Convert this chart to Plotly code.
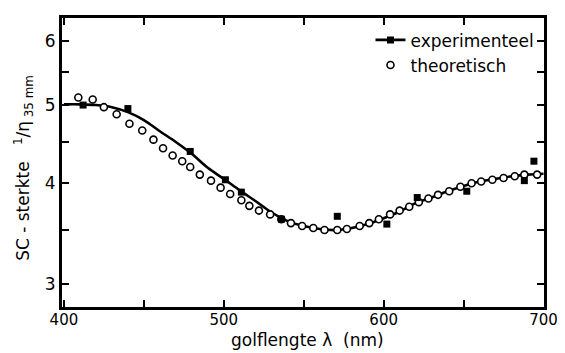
import math
import plotly.graph_objects as go

# theoretical curve (open circles)
theo_wl = [409, 418, 425, 433, 441, 449, 456, 462, 468, 474, 479, 485, 492, 498, 504,
           511, 516, 522, 529, 536, 542, 549, 556, 563, 571, 577, 585, 591, 597, 604,
           610, 616, 622, 628, 634, 641, 648, 655, 661, 668, 675, 682, 688, 696]
theo_val = [5.11, 5.08, 4.97, 4.87, 4.74, 4.65, 4.53, 4.42, 4.33, 4.26, 4.19, 4.10, 4.03, 3.95, 3.88,
            3.81, 3.75, 3.70, 3.66, 3.61, 3.57, 3.54, 3.52, 3.50, 3.50, 3.51, 3.54, 3.57, 3.61, 3.66,
            3.70, 3.74, 3.79, 3.83, 3.87, 3.91, 3.96, 4.00, 4.02, 4.04, 4.06, 4.08, 4.10, 4.10]

# experimental points (filled squares)
exp_wl = [412, 440, 479, 501, 511, 536, 571, 602, 621, 652, 688, 694]
exp_val = [5.00, 4.95, 4.38, 4.04, 3.90, 3.61, 3.64, 3.56, 3.84, 3.91, 4.03, 4.26]

# experimental fitted curve (solid line)
fit_wl = [400, 410, 420, 430, 440, 450, 460, 470, 480, 490, 500, 510, 520, 530, 540, 550,
          560, 570, 580, 590, 600, 610, 620, 630, 640, 650, 660, 670, 680, 690, 700]
fit_val = [5.01, 5.01, 5.00, 4.97, 4.90, 4.79, 4.64, 4.50, 4.35, 4.18, 4.05, 3.92, 3.80, 3.68, 3.59, 3.54,
           3.51, 3.50, 3.52, 3.56, 3.62, 3.69, 3.78, 3.84, 3.91, 3.97, 4.02, 4.05, 4.08, 4.10, 4.11]

x_ticks = [400, 500, 600, 700]
x_minor = [450, 550, 650]
y_ticks = [3, 4, 5, 6]
y_minor = [3.5, 4.5, 5.5]

FONT = "DejaVu Sans"

fig = go.Figure()
fig.add_trace(go.Scatter(
    x=fit_wl, y=fit_val, mode="lines+markers", name="experimenteel",
    line=dict(color="black", width=2.6, shape="spline"),
    marker=dict(symbol="square", size=7, color="black"),
    selectedpoints=[], unselected=dict(marker=dict(opacity=0)),
))
fig.add_trace(go.Scatter(
    x=theo_wl, y=theo_val, mode="markers", name="theoretisch",
    marker=dict(symbol="circle", size=7, color="white", line=dict(color="black", width=1.6)),
))
fig.add_trace(go.Scatter(
    x=exp_wl, y=exp_val, mode="markers", showlegend=False,
    marker=dict(symbol="square", size=7, color="black"),
))

tick_style = dict(ticks="inside", ticklen=7, tickwidth=2, tickcolor="black")

fig.update_layout(
    width=557, height=345,
    margin=dict(l=54, r=17, t=7, b=46),
    paper_bgcolor="white", plot_bgcolor="white",
    font=dict(family=FONT, color="black", size=14),
    legend=dict(x=0.64, y=0.985, xanchor="left", yanchor="top",
                bgcolor="rgba(0,0,0,0)", font=dict(size=17, family=FONT),
                tracegroupgap=0),
    xaxis=dict(range=[398.8, 700.3], tickvals=x_ticks,
               minor=dict(tickvals=x_minor, **tick_style),
               showline=True, linewidth=3, linecolor="black", mirror="ticks",
               showgrid=False, zeroline=False, ticklabelstandoff=-3,
               tickfont=dict(size=15, family=FONT), **tick_style),
    yaxis=dict(type="log", range=[math.log10(2.81), math.log10(6.41)],
               tickvals=y_ticks, ticktext=[str(v) for v in y_ticks],
               minor=dict(tickvals=y_minor, **tick_style),
               showline=True, linewidth=3, linecolor="black", mirror="ticks",
               showgrid=False, zeroline=False,
               tickfont=dict(size=17, family=FONT), **tick_style),
)

fig.add_annotation(text="SC - sterkte   <sup>1</sup>/η<sub> 35 mm</sub>", textangle=-90,
                   xref="paper", yref="paper", x=-0.08, y=0.483,
                   xanchor="center", yanchor="middle", showarrow=False,
                   font=dict(size=17, family=FONT))
fig.add_annotation(text="golflengte λ  (nm)",
                   xref="paper", yref="paper", x=0.51, y=-0.113,
                   xanchor="center", yanchor="middle", showarrow=False,
                   font=dict(size=17, family=FONT))

fig.write_html("out.html")
